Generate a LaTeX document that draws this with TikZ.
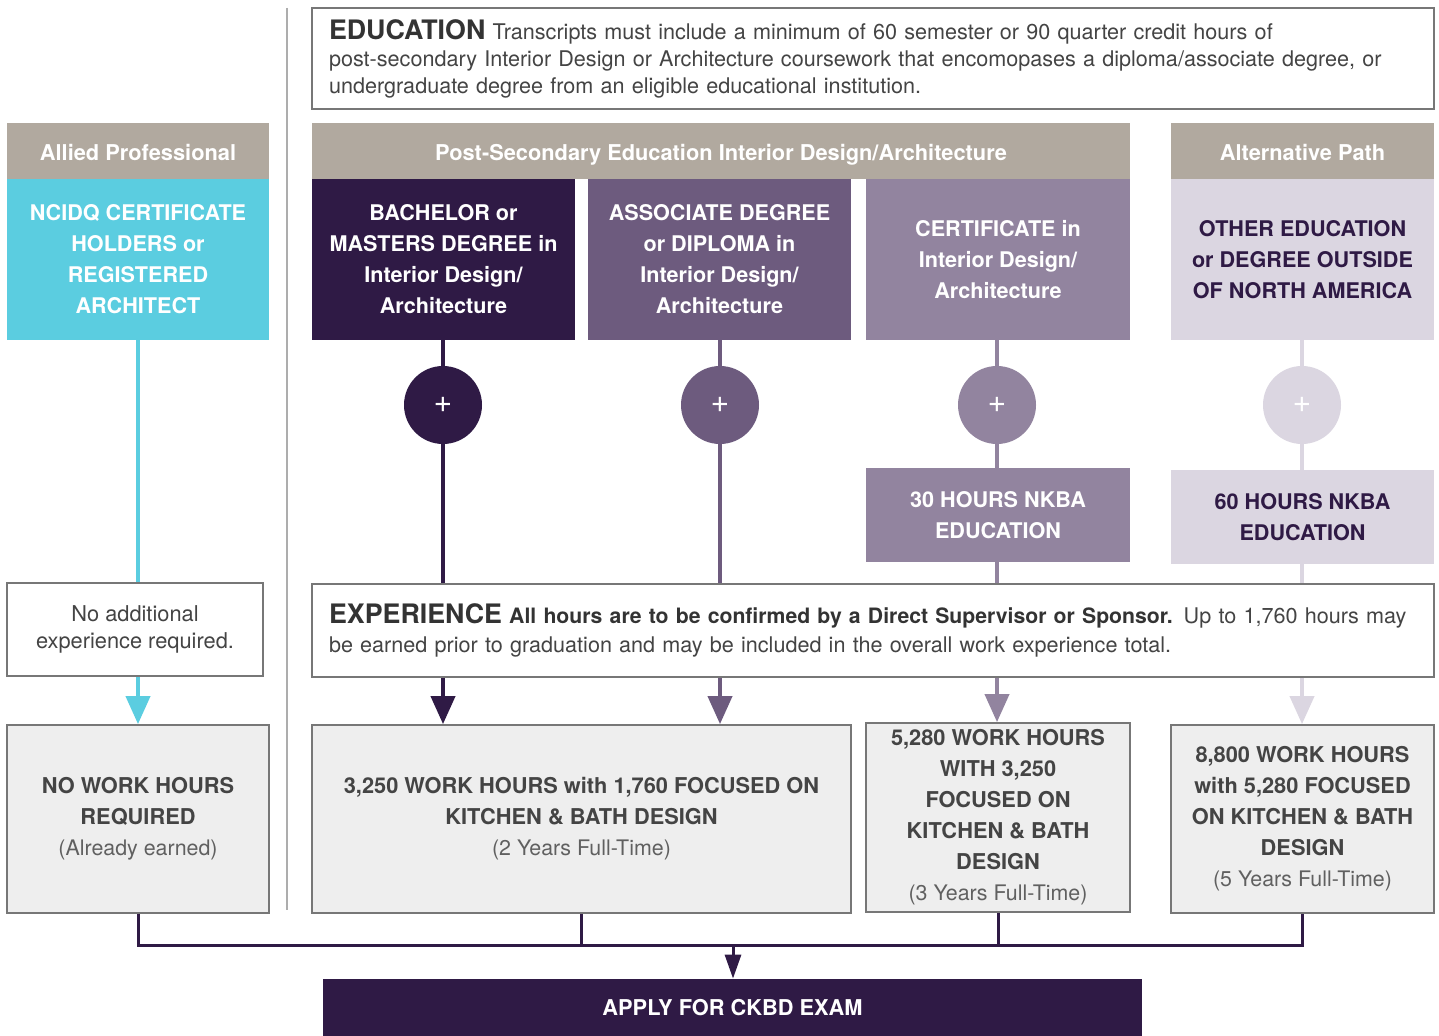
\documentclass[tikz,border=0pt]{standalone}
\usepackage{fontspec}
\setmainfont{TeX Gyre Heros}
\usetikzlibrary{arrows.meta}

\definecolor{ckbdtan}{HTML}{B1A99F}
\definecolor{ckbdcyan}{HTML}{5BCDE0}
\definecolor{ckbddark}{HTML}{2F1A45}
\definecolor{ckbdmid}{HTML}{6D5B7E}
\definecolor{ckbdsoft}{HTML}{92849F}
\definecolor{ckbdpale}{HTML}{DBD6E1}
\definecolor{ckbdgray}{HTML}{EEEEEE}
\definecolor{ckbdline}{HTML}{777777}
\definecolor{ckbdtext}{HTML}{444444}

\tikzset{
  header/.style={fill=ckbdtan, text=white, inner sep=0pt, minimum height=28pt, align=center,
    text height=11.6pt, text depth=2.4pt, font=\bfseries\fontsize{10.9}{12}\selectfont},
  pathbox/.style={text=white, inner sep=0pt, minimum height=80.5pt, minimum width=131.5pt, align=center,
    font=\bfseries\fontsize{10.8}{15.5}\selectfont},
  plus/.style={circle, inner sep=0pt, minimum size=39pt, text=white, font=\fontsize{16}{16}\selectfont},
  notebox/.style={draw=ckbdline, line width=0.9pt, fill=white, inner sep=0pt, text=ckbdtext},
  hoursbox/.style={draw=ckbdline, line width=0.9pt, fill=ckbdgray, inner sep=0pt, align=center, text=ckbdtext,
    font=\bfseries\fontsize{10.9}{15.5}\selectfont},
  flow/.style={line width=2pt},
  bus/.style={line width=1.5pt, ckbddark},
  tip/.style={-{Triangle[width=12pt,length=14pt]}},
}

\newcommand{\yrs}[1]{{\mdseries\fontsize{10.7}{15.5}\selectfont\color{ckbdtext!85}#1}}

\begin{document}
\begin{tikzpicture}[x=0.5pt, y=-0.5pt]
\useasboundingbox[fill=white] (0,0) rectangle (1439,1036);

\draw[ckbdline!60, line width=1pt] (287,8) -- (287,910);

\node[notebox, minimum width=561pt, minimum height=50.5pt, text width=544pt, align=left,
  font=\fontsize{10.8}{13.5}\selectfont, text=ckbdtext] at (873,58.5) (edu)
  {{\fontsize{13.4}{13.5}\selectfont\bfseries\color{black!80}EDUCATION} Transcripts must include a minimum of 60 semester or 90 quarter credit hours of\\
   post-secondary Interior Design or Architecture coursework that encomopases a diploma/associate degree, or\\
   undergraduate degree from an eligible educational institution.};

\node[header, minimum width=131pt] at (138,151) (allied) {Allied Professional};
\node[header, minimum width=409pt] at (721,151) (postsec) {Post-Secondary Education Interior Design/Architecture};
\node[header, minimum width=131.5pt] at (1302.5,151) (altpath) {Alternative Path};

\node[pathbox, fill=ckbdcyan, minimum width=131pt] at (138,259.5) (ncidq)
  {NCIDQ CERTIFICATE\\HOLDERS or\\REGISTERED\\ARCHITECT};
\node[pathbox, fill=ckbddark] at (443.5,259.5) (bach)
  {BACHELOR or\\MASTERS DEGREE in\\Interior Design/\\Architecture};
\node[pathbox, fill=ckbdmid] at (719.5,259.5) (assoc)
  {ASSOCIATE DEGREE\\or DIPLOMA in\\Interior Design/\\Architecture};
\node[pathbox, fill=ckbdsoft, minimum width=132pt] at (998,259.5) (cert)
  {CERTIFICATE in\\Interior Design/\\Architecture};
\node[pathbox, fill=ckbdpale, text=ckbddark] at (1302.5,259.5) (other)
  {OTHER EDUCATION\\or DEGREE OUTSIDE\\OF NORTH AMERICA};

\node[plus, fill=ckbddark] at (443,405) (plusa) {+};
\node[plus, fill=ckbdmid] at (720,405) (plusb) {+};
\node[plus, fill=ckbdsoft] at (997,405) (plusc) {+};
\node[plus, fill=ckbdpale] at (1302,405) (plusd) {+};

\node[pathbox, fill=ckbdsoft, minimum width=132pt, minimum height=47pt] at (998,515) (nkbaa)
  {30 HOURS NKBA\\EDUCATION};
\node[pathbox, fill=ckbdpale, text=ckbddark, minimum height=47pt] at (1302.5,517) (nkbab)
  {60 HOURS NKBA\\EDUCATION};

\node[notebox, minimum width=128pt, minimum height=46.5pt, align=center,
  font=\fontsize{10.9}{13.5}\selectfont] at (135,629.5) (noadd)
  {No additional\\experience required.};
\node[notebox, minimum width=561pt, minimum height=46.5pt, text width=544pt, align=left,
  font=\fontsize{10.8}{14.5}\selectfont] at (873,630.5) (exper)
  {{\fontsize{13.4}{14.5}\selectfont\bfseries\color{black!80}EXPERIENCE} {\fontsize{10.6}{14.5}\selectfont\bfseries\color{black!80}All hours are to be confirmed by a Direct Supervisor or Sponsor.} Up to 1,760 hours may\\
   be earned prior to graduation and may be included in the overall work experience total.};

\node[hoursbox, minimum width=131pt, minimum height=94pt] at (138,819) (nowork)
  {NO WORK HOURS\\REQUIRED\\\yrs{(Already earned)}};
\node[hoursbox, minimum width=269.5pt, minimum height=94pt] at (581.5,819) (twoyr)
  {3,250 WORK HOURS with 1,760 FOCUSED ON\\KITCHEN \& BATH DESIGN\\\yrs{(2 Years Full-Time)}};
\node[hoursbox, minimum width=132pt, minimum height=94.5pt] at (998,817.5) (threeyr)
  {5,280 WORK HOURS\\WITH 3,250\\FOCUSED ON\\KITCHEN \& BATH\\DESIGN\\\yrs{(3 Years Full-Time)}};
\node[hoursbox, minimum width=131.5pt, minimum height=94pt] at (1302.5,819) (fiveyr)
  {8,800 WORK HOURS\\with 5,280 FOCUSED\\ON KITCHEN \& BATH\\DESIGN\\\yrs{(5 Years Full-Time)}};

\node[fill=ckbddark, text=white, inner sep=0pt, minimum width=409.5pt, minimum height=29pt,
  font=\bfseries\fontsize{10.9}{12}\selectfont] at (732.5,1008) (apply) {APPLY FOR CKBD EXAM};

\draw[flow, ckbdcyan] (ncidq.south) -- (ncidq.south |- noadd.north);
\draw[flow, ckbdcyan, tip] (ncidq.south |- noadd.south) -- (nowork.north);

\draw[flow, ckbddark] (bach.south -| plusa) -- (plusa.north);
\draw[flow, ckbddark] (plusa.south) -- (plusa.south |- exper.north);
\draw[flow, ckbddark, tip] (plusa |- exper.south) -- (plusa |- twoyr.north);

\draw[flow, ckbdmid] (assoc.south -| plusb) -- (plusb.north);
\draw[flow, ckbdmid] (plusb.south) -- (plusb.south |- exper.north);
\draw[flow, ckbdmid, tip] (plusb |- exper.south) -- (plusb |- twoyr.north);

\draw[flow, ckbdsoft] (cert.south -| plusc) -- (plusc.north);
\draw[flow, ckbdsoft] (plusc.south) -- (plusc.south |- nkbaa.north);
\draw[flow, ckbdsoft] (nkbaa.south -| plusc) -- (plusc |- exper.north);
\draw[flow, ckbdsoft, tip] (plusc |- exper.south) -- (plusc |- threeyr.north);

\draw[flow, ckbdpale] (other.south -| plusd) -- (plusd.north);
\draw[flow, ckbdpale] (plusd.south) -- (plusd.south |- nkbab.north);
\draw[flow, ckbdpale] (nkbab.south -| plusd) -- (plusd |- exper.north);
\draw[flow, ckbdpale, tip] (plusd |- exper.south) -- (plusd |- fiveyr.north);

\coordinate (join) at (733,945);
\draw[bus] (nowork.south) -- (nowork.south |- join) -- (fiveyr.south |- join) -- (fiveyr.south);
\draw[bus] (twoyr.south) -- (twoyr.south |- join);
\draw[bus] (threeyr.south) -- (threeyr.south |- join);
\draw[bus, -{Triangle[width=8pt,length=12pt]}] (join) -- (join |- apply.north);
\end{tikzpicture}
\end{document}
